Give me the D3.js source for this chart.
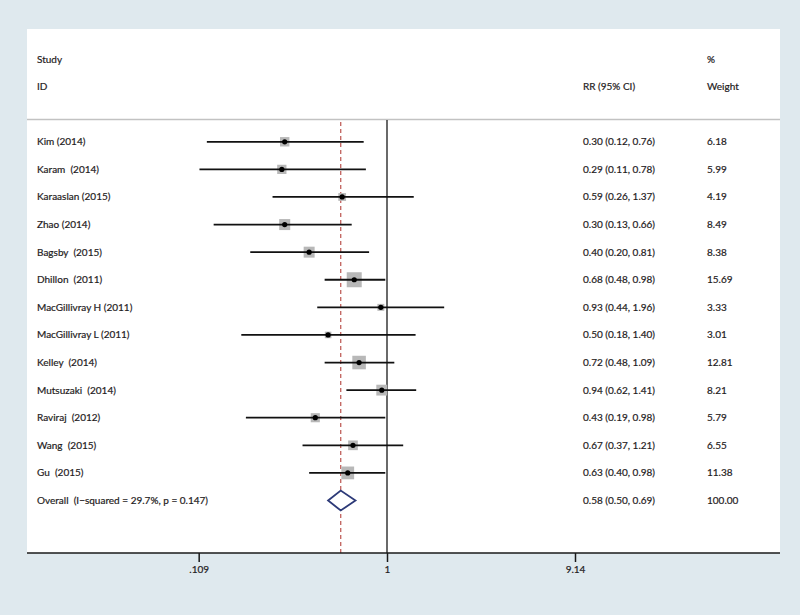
<!DOCTYPE html>
<html>
<head>
<meta charset="utf-8">
<script src="https://cdn.jsdelivr.net/npm/d3@7"></script>
<style>
  body { margin: 0; background: #dfe9ee; }
  svg text { font-family: Lato, "Open Sans", sans-serif; font-size: 10px; fill: #1f1c1d; stroke: #1f1c1d; stroke-width: 0.2px; white-space: pre; }
</style>
</head>
<body>
<div id="chart"></div>
<script>
// data
const studies = ["Kim (2014)", "Karam  (2014)", "Karaaslan (2015)", "Zhao (2014)", "Bagsby  (2015)",
  "Dhillon  (2011)", "MacGillivray H (2011)", "MacGillivray L (2011)", "Kelley  (2014)",
  "Mutsuzaki  (2014)", "Raviraj  (2012)", "Wang  (2015)", "Gu  (2015)"];
const rr    = [0.30, 0.29, 0.59, 0.30, 0.40, 0.68, 0.93, 0.50, 0.72, 0.94, 0.43, 0.67, 0.63];
const lower = [0.12, 0.11, 0.26, 0.13, 0.20, 0.48, 0.44, 0.18, 0.48, 0.62, 0.19, 0.37, 0.40];
const upper = [0.76, 0.78, 1.37, 0.66, 0.81, 0.98, 1.96, 1.40, 1.09, 1.41, 0.98, 1.21, 0.98];
const weights = [6.18, 5.99, 4.19, 8.49, 8.38, 15.69, 3.33, 3.01, 12.81, 8.21, 5.79, 6.55, 11.38];
const overall = { label: "Overall  (I\u2212squared = 29.7%, p = 0.147)", rr: 0.58, lower: 0.50, upper: 0.69, weight: 100.00 };
const tickValues = [0.109, 1, 9.14];
const tickLabels = [".109", "1", "9.14"];

// canvas
const width = 800, height = 615;
const panel = { left: 27, right: 780, top: 29, bottom: 553 };

const svg = d3.select("#chart").append("svg")
    .attr("width", width)
    .attr("height", height);

svg.append("rect")
    .attr("x", panel.left)
    .attr("y", panel.top)
    .attr("width", panel.right - panel.left)
    .attr("height", panel.bottom - panel.top)
    .attr("fill", "#ffffff");

// scales
const xScale = d3.scaleLog()
    .domain([1 / 9.14, 9.14])
    .range([199, 575]);

// rows: 0 = Study, 1 = ID, 3..15 studies, 16 overall
const rowScale = d3.scaleLinear()
    .domain([0, 16])
    .range([59, 500.5]);

const sizeScale = d3.scaleSqrt()
    .domain([0, 15.69])
    .range([0, 15]);

const rows = studies.map((s, i) => ({
    label: s, rr: rr[i], lower: lower[i], upper: upper[i], weight: weights[i], row: i + 3
}));

// header
const colStudy = 37, colCI = 583, colW = 707;
const header = [
    { t: "Study", x: colStudy, r: 0 }, { t: "ID", x: colStudy, r: 1 },
    { t: "RR (95% CI)", x: colCI, r: 1 }, { t: "%", x: colW, r: 0 }, { t: "Weight", x: colW, r: 1 }
];
svg.selectAll(".hdr")
    .data(header)
    .enter()
    .append("text")
    .attr("x", d => d.x)
    .attr("y", d => rowScale(d.r))
    .attr("dy", "0.35em")
    .text(d => d.t);

svg.append("line")
    .attr("x1", panel.left).attr("x2", panel.right)
    .attr("y1", 119.5).attr("y2", 119.5)
    .attr("stroke", "#c2c2c2")
    .attr("stroke-width", 1.5);

// null line and overall dashed line
svg.append("line")
    .attr("x1", xScale(1)).attr("x2", xScale(1))
    .attr("y1", 120).attr("y2", panel.bottom)
    .attr("stroke", "#1a1a1a")
    .attr("stroke-width", 1.3);

svg.append("line")
    .attr("x1", xScale(overall.rr)).attr("x2", xScale(overall.rr))
    .attr("y1", 122).attr("y2", panel.bottom)
    .attr("stroke", "#c0605c")
    .attr("stroke-width", 1.3)
    .attr("stroke-dasharray", "4,3");

// study rows
const g = svg.selectAll(".study")
    .data(rows)
    .enter()
    .append("g");

g.append("rect")
    .attr("x", d => xScale(d.rr) - sizeScale(d.weight) / 2)
    .attr("y", d => rowScale(d.row) - sizeScale(d.weight) / 2)
    .attr("width", d => sizeScale(d.weight))
    .attr("height", d => sizeScale(d.weight))
    .attr("fill", "#b8b8b8");

g.append("line")
    .attr("x1", d => xScale(d.lower))
    .attr("x2", d => xScale(d.upper))
    .attr("y1", d => rowScale(d.row))
    .attr("y2", d => rowScale(d.row))
    .attr("stroke", "#111")
    .attr("stroke-width", 1.8);

g.append("circle")
    .attr("cx", d => xScale(d.rr))
    .attr("cy", d => rowScale(d.row))
    .attr("r", 2.6)
    .attr("fill", "#000");

g.append("text")
    .attr("x", colStudy)
    .attr("y", d => rowScale(d.row))
    .attr("dy", "0.35em")
    .text(d => d.label);

g.append("text")
    .attr("x", colCI)
    .attr("y", d => rowScale(d.row))
    .attr("dy", "0.35em")
    .text(d => `${d.rr.toFixed(2)} (${d.lower.toFixed(2)}, ${d.upper.toFixed(2)})`);

g.append("text")
    .attr("x", colW)
    .attr("y", d => rowScale(d.row))
    .attr("dy", "0.35em")
    .text(d => d.weight.toFixed(2));

// overall
const oy = rowScale(16);
svg.append("path")
    .attr("d", `M${xScale(overall.lower)},${oy} L${xScale(overall.rr)},${oy - 10} L${xScale(overall.upper)},${oy} L${xScale(overall.rr)},${oy + 10} Z`)
    .attr("fill", "#ffffff")
    .attr("stroke", "#2d3a78")
    .attr("stroke-width", 1.8);

svg.append("text")
    .attr("x", colStudy).attr("y", oy).attr("dy", "0.35em")
    .text(overall.label);
svg.append("text")
    .attr("x", colCI).attr("y", oy).attr("dy", "0.35em")
    .text(`${overall.rr.toFixed(2)} (${overall.lower.toFixed(2)}, ${overall.upper.toFixed(2)})`);
svg.append("text")
    .attr("x", colW).attr("y", oy).attr("dy", "0.35em")
    .text(overall.weight.toFixed(2));

// x axis
svg.append("line")
    .attr("x1", panel.left).attr("x2", panel.right)
    .attr("y1", panel.bottom).attr("y2", panel.bottom)
    .attr("stroke", "#1a1a1a")
    .attr("stroke-width", 1.3);

const axis = svg.append("g")
    .attr("transform", "translate(0," + panel.bottom + ")")
    .call(d3.axisBottom(xScale)
        .tickValues(tickValues)
        .tickFormat((d, i) => tickLabels[i])
        .tickSize(9)
        .tickPadding(4));
axis.select(".domain").remove();
axis.selectAll(".tick line").attr("stroke", "#1a1a1a").attr("stroke-width", 1.5);
axis.selectAll(".tick text").style("font-size", "10px").attr("fill", "#1f1c1d");
</script>
</body>
</html>
